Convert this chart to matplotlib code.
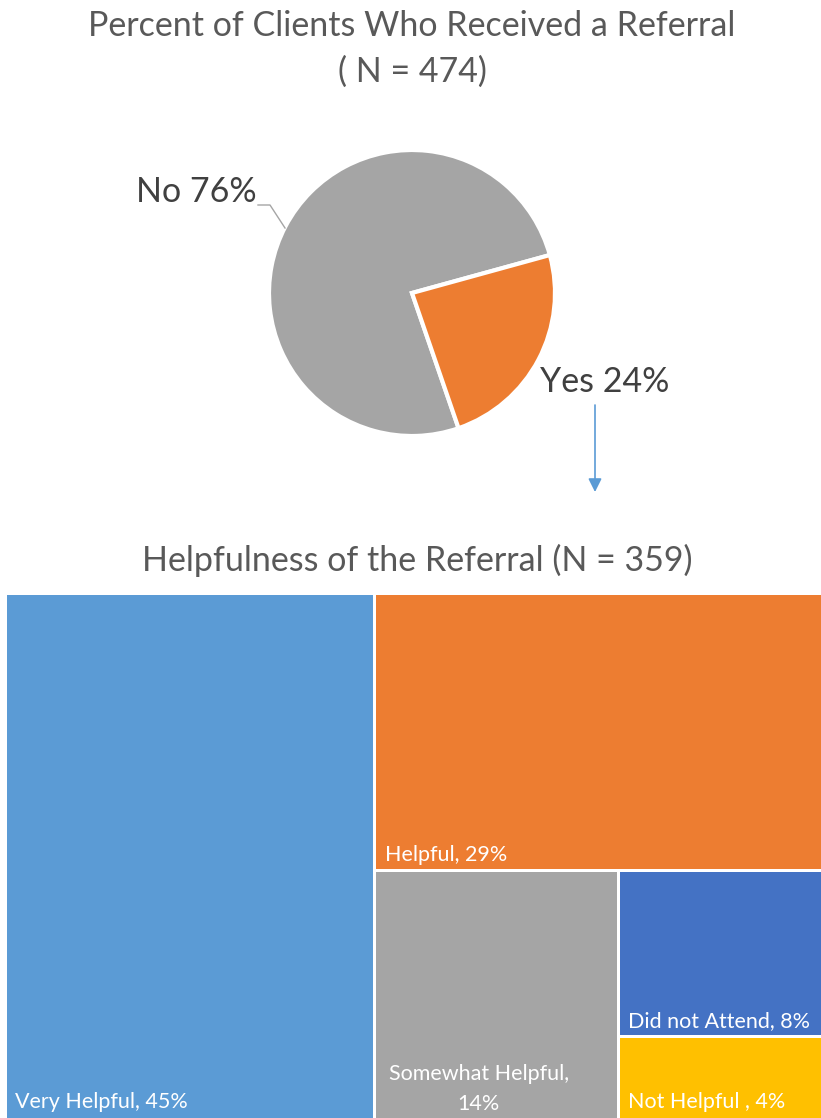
import matplotlib
matplotlib.use('Agg')
import matplotlib.pyplot as plt
from matplotlib.patches import Rectangle

plt.rcParams['font.family'] = ['Lato', 'DejaVu Sans']

# pie data
pie_labels = ["No", "Yes"]
pie_values = [76, 24]
pie_colors = ['#A5A5A5', '#ED7D31']

# treemap data
tree_labels = ["Very Helpful, 45%", "Helpful, 29%", "Somewhat Helpful,\n14%",
               "Did not Attend, 8%", "Not Helpful , 4%"]
tree_values = [45, 29, 14, 8, 4]
tree_colors = ['#5B9BD5', '#ED7D31', '#A5A5A5', '#4472C4', '#FFC000']

text_gray = '#595959'
W, H = 821, 1118


def slice_dice(values, x, y, w, h, vertical=True):
    # alternate vertical / horizontal splits, first item takes its share
    # (y grows downward here)
    rects = []
    total = sum(values)
    for i, v in enumerate(values):
        if i == len(values) - 1:
            rects.append((x, y, w, h))
            break
        frac = v / total
        if vertical:
            rects.append((x, y, w * frac, h))
            x, w = x + w * frac, w * (1 - frac)
        else:
            rects.append((x, y, w, h * frac))
            y, h = y + h * frac, h * (1 - frac)
        total -= v
        vertical = not vertical
    return rects


fig = plt.figure(figsize=(W / 100, H / 100), dpi=100)

# titles
fig.text(412 / W, 1 - 26 / H, "Percent of Clients Who Received a Referral",
         ha='center', va='center', fontsize=24.5, color=text_gray)
fig.text(412 / W, 1 - 72 / H, "( N = 474)",
         ha='center', va='center', fontsize=24.5, color=text_gray)
fig.text(417 / W, 1 - 560 / H, "Helpfulness of the Referral (N = 359)",
         ha='center', va='center', fontsize=24.5, color=text_gray)

# pie
r = 143
ax_pie = fig.add_axes([(412 - r) / W, 1 - (293 + r) / H, 2 * r / W, 2 * r / H])
ax_pie.pie(pie_values, colors=pie_colors, startangle=289, counterclock=False,
           wedgeprops=dict(edgecolor='white', linewidth=3))
ax_pie.set_aspect('auto')
ax_pie.set_xlim(-1, 1)
ax_pie.set_ylim(-1, 1)

fig.text(196 / W, 1 - 192 / H, f"{pie_labels[0]} {pie_values[0]}%",
         ha='center', va='center', fontsize=24.5, color='#404040')
fig.text(605 / W, 1 - 382 / H, f"{pie_labels[1]} {pie_values[1]}%",
         ha='center', va='center', fontsize=24.5, color='#404040')

# leader line for "No" and arrow under "Yes"
ax_ov = fig.add_axes([0, 0, 1, 1], facecolor='none')
ax_ov.set_xlim(0, W)
ax_ov.set_ylim(H, 0)
ax_ov.axis('off')
ax_ov.plot([258, 270, 285], [205, 205, 228], color='#A5A5A5', lw=1)
ax_ov.annotate('', xy=(595, 492), xytext=(595, 405),
               arrowprops=dict(arrowstyle='-|>', color='#5B9BD5', lw=1.2,
                               mutation_scale=20, shrinkA=0, shrinkB=0))

# treemap
tx0, ty0, tw, th = 5, 593, 822, 527
rects = slice_dice(tree_values, tx0, ty0, tw, th, vertical=True)
gap = 1.5
for (x, y, w, h), lab, c in zip(rects, tree_labels, tree_colors):
    ax_ov.add_patch(Rectangle((x + gap, y + gap), w - 2 * gap, h - 2 * gap,
                              facecolor=c, edgecolor='none'))
    bottom = min(y + h, H)
    if '\n' in lab:
        ax_ov.text(x + w / 2 - 18, bottom - 8, lab, ha='center', va='baseline',
                   fontsize=15.5, color='white', multialignment='center',
                   linespacing=1.6)
    else:
        ax_ov.text(x + 10, bottom - 10, lab, ha='left', va='baseline',
                   fontsize=15.5, color='white')

fig.savefig("out.png", dpi=100)
